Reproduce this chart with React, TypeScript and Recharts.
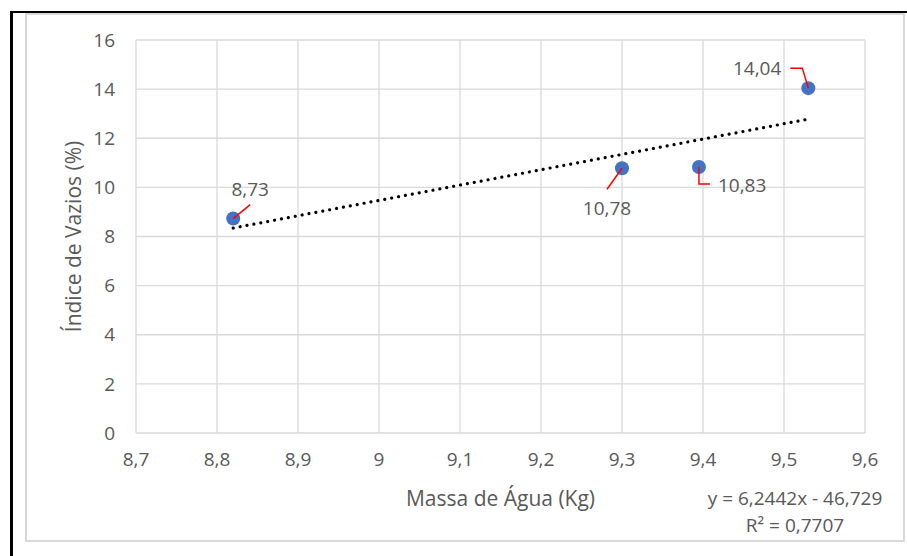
import React from "react";
import { ScatterChart, Scatter, XAxis, YAxis, CartesianGrid, Label, Customized } from "recharts";

// Massa de Água (Kg) x Índice de Vazios (%)
const massaAgua = [8.82, 9.3, 9.395, 9.53];
const indiceVazios = [8.73, 10.78, 10.83, 14.04];
const xTicks = [8.7, 8.8, 8.9, 9, 9.1, 9.2, 9.3, 9.4, 9.5, 9.6];
const yTicks = [0, 2, 4, 6, 8, 10, 12, 14, 16];
const trendSlope = 6.2442;
const trendIntercept = -46.729;
const trendR2 = 0.7707;

const fmt = (v: number) => String(v).replace(".", ",");

// leader line (relative to point) + text anchor for each data label
const labelLayout = [
  { path: [[0, 0], [17, -14]], tx: 17, ty: -30, anchor: "middle" },
  { path: [[0, 0], [-15, 21]], tx: -15, ty: 40, anchor: "middle" },
  { path: [[0, 0], [0, 17], [11, 17]], tx: 19, ty: 18, anchor: "start" },
  { path: [[0, 0], [-6, -20], [-18, -20]], tx: -27, ty: -20, anchor: "end" },
];

const textColor = "#595959";
const gridColor = "#d9d9d9";

export default function App() {
  const points = massaAgua.map((x, i) => ({ x, y: indiceVazios[i], i }));
  const xMin = Math.min(...massaAgua);
  const xMax = Math.max(...massaAgua);
  const trend = [xMin, xMax].map((x) => ({ x, y: trendSlope * x + trendIntercept }));

  const PointShape = (props: any) => {
    const { cx, cy, payload } = props;
    const l = labelLayout[payload.i];
    const d = l.path.map((p, k) => `${k === 0 ? "M" : "L"}${cx + p[0]},${cy + p[1]}`).join(" ");
    return (
      <g>
        <circle cx={cx} cy={cy} r={7} fill="#4472C4" />
        <path d={d} stroke="#ff0000" strokeWidth={1.5} fill="none" />
        <text x={cx + l.tx} y={cy + l.ty} textAnchor={l.anchor as any} dominantBaseline="central" fill={textColor} fontSize={19}>
          {fmt(payload.y)}
        </text>
      </g>
    );
  };

  return (
    <div style={{ position: "absolute", left: 0, top: 0, width: 907, height: 556, background: "#fff", fontFamily: "'Open Sans', sans-serif" }}>
      <div style={{ position: "absolute", left: 10, top: 11, width: 3, height: 545, background: "#000" }} />
      <div style={{ position: "absolute", left: 10, top: 11, width: 897, height: 2, background: "#000" }} />
      <div style={{ position: "absolute", left: 25, top: 13, width: 876, height: 525, border: `2px solid ${gridColor}` }} />
      <div style={{ position: "absolute", left: 0, top: 0 }}>
        <ScatterChart width={907} height={556} margin={{ top: 40, right: 42, bottom: 0, left: 0 }}>
          <CartesianGrid stroke={gridColor} strokeWidth={1.3} />
          <XAxis
            type="number"
            dataKey="x"
            domain={[8.7, 9.6]}
            ticks={xTicks}
            tickFormatter={(v: number) => fmt(v)}
            height={123}
            axisLine={false}
            tickLine={false}
            tickSize={0}
            tickMargin={20}
            tick={{ fill: textColor, fontSize: 19 }}
          >
            <Label
              content={({ viewBox }: any) => (
                <text x={viewBox.x + viewBox.width / 2} y={506} textAnchor="middle" fill={textColor} fontSize={21}>
                  Massa de Água (Kg)
                </text>
              )}
            />
          </XAxis>
          <YAxis
            type="number"
            dataKey="y"
            domain={[0, 16]}
            ticks={yTicks}
            width={136}
            axisLine={false}
            tickLine={false}
            tickSize={0}
            tickMargin={21}
            tick={{ fill: textColor, fontSize: 19 }}
          >
            <Label
              content={({ viewBox }: any) => {
                const cy = viewBox.y + viewBox.height / 2;
                return (
                  <text x={81} y={cy} transform={`rotate(-90, 81, ${cy})`} textAnchor="middle" fill={textColor} fontSize={21}>
                    Índice de Vazios (%)
                  </text>
                );
              }}
            />
          </YAxis>
          <Scatter
            data={trend}
            isAnimationActive={false}
            line={{ stroke: "#000", strokeWidth: 3.2, strokeDasharray: "0.01 7", strokeLinecap: "round" }}
            shape={() => <g />}
          />
          <Scatter data={points} isAnimationActive={false} shape={PointShape} />
          <Customized
            component={() => (
              <g fill={textColor} fontSize={19} textAnchor="middle">
                <text x={795} y={505}>{`y = ${fmt(trendSlope)}x - ${fmt(-trendIntercept)}`}</text>
                <text x={795} y={532}>{`R² = ${fmt(trendR2)}`}</text>
              </g>
            )}
          />
        </ScatterChart>
      </div>
    </div>
  );
}
